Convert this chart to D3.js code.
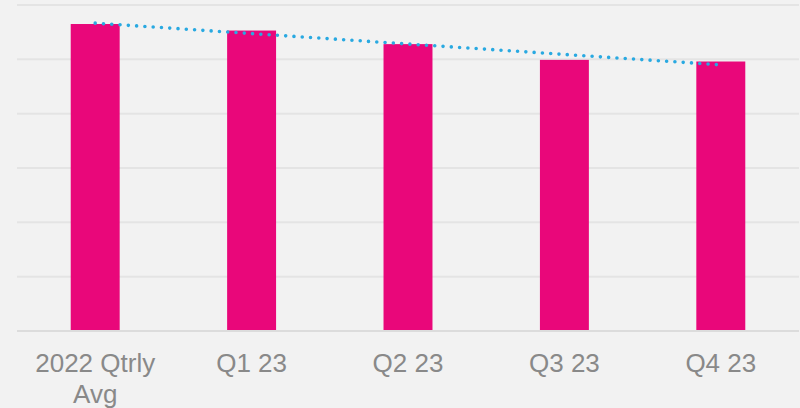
<!DOCTYPE html>
<html>
<head>
<meta charset="utf-8">
<script src="https://cdn.jsdelivr.net/npm/d3@7"></script>
<style>
  html, body { margin: 0; padding: 0; background: #f2f2f2; }
  svg { display: block; }
</style>
</head>
<body>
<svg id="chart"></svg>
<script>
'use strict';

const WIDTH = 800;
const HEIGHT = 408;
const PLOT_LEFT = 17;
const PLOT_RIGHT = 799;
const PLOT_TOP = 5;
const PLOT_BOTTOM = 331;
const BAR_FRACTION = 0.313;
const LABEL_WRAP = 150;

const categories = ["2022 Qtrly Avg", "Q1 23", "Q2 23", "Q3 23", "Q4 23"];
const values = [5.65, 5.53, 5.28, 4.99, 4.96];
const yTicks = [0, 1, 2, 3, 4, 5, 6];

const svg = d3.select("#chart").attr("width", WIDTH).attr("height", HEIGHT);

svg.append("rect")
   .attr("width", WIDTH)
   .attr("height", HEIGHT)
   .attr("fill", "#f2f2f2");

const xScale = d3.scaleBand()
   .domain(categories)
   .range([PLOT_LEFT, PLOT_RIGHT])
   .padding(0);

const yScale = d3.scaleLinear()
   .domain([0, 6])
   .range([PLOT_BOTTOM, PLOT_TOP]);

const barWidth = xScale.bandwidth() * BAR_FRACTION;

// gridlines
svg.append("g")
   .selectAll("line")
   .data(yTicks)
   .enter()
   .append("line")
   .attr("x1", PLOT_LEFT)
   .attr("x2", PLOT_RIGHT)
   .attr("y1", d => yScale(d))
   .attr("y2", d => yScale(d))
   .attr("stroke", d => d === 0 ? "#dcdcdc" : "#e4e4e4")
   .attr("stroke-width", 2);

// bars
svg.append("g")
   .selectAll("rect")
   .data(values)
   .enter()
   .append("rect")
   .attr("x", (d, i) => xScale(categories[i]) + (xScale.bandwidth() - barWidth) / 2)
   .attr("y", d => yScale(d))
   .attr("width", barWidth)
   .attr("height", d => yScale(0) - yScale(d) - 1)
   .attr("fill", "#e9077a");

// linear trendline through the bar values
const n = values.length;
const meanX = d3.mean(values, (d, i) => i);
const meanY = d3.mean(values);
const slope = d3.sum(values, (d, i) => (i - meanX) * (d - meanY)) /
   d3.sum(values, (d, i) => (i - meanX) * (i - meanX));
const intercept = meanY - slope * meanX;
const trend = [0, n - 1].map(i => [
   xScale(categories[i]) + xScale.bandwidth() / 2,
   yScale(intercept + slope * i)
]);

svg.append("path")
   .attr("d", d3.line()(trend))
   .attr("fill", "none")
   .attr("stroke", "#29a9e1")
   .attr("stroke-width", 3.6)
   .attr("stroke-linecap", "round")
   .attr("stroke-dasharray", "0 8.3");

// category labels
const xAxis = svg.append("g")
   .attr("transform", `translate(0,${PLOT_BOTTOM})`)
   .call(d3.axisBottom(xScale).tickSize(0).tickPadding(0));

xAxis.select(".domain").remove();

xAxis.selectAll(".tick text")
   .attr("fill", "#898989")
   .attr("font-family", "'Liberation Sans', Arial, sans-serif")
   .attr("font-size", "26px")
   .attr("y", 0)
   .attr("dy", null)
   .each(function (d) {
      const text = d3.select(this);
      const words = d.split(" ");
      text.text(null);
      let line = [];
      let tspan = text.append("tspan");
      words.forEach(w => {
         line.push(w);
         tspan.text(line.join(" "));
         if (tspan.node().getComputedTextLength() > LABEL_WRAP && line.length > 1) {
            line.pop();
            tspan.text(line.join(" "));
            line = [w];
            tspan = text.append("tspan").text(w);
         }
      });
      text.selectAll("tspan")
         .attr("x", 0)
         .attr("y", (_, i) => 41 + i * 31);
   });
</script>
</body>
</html>
